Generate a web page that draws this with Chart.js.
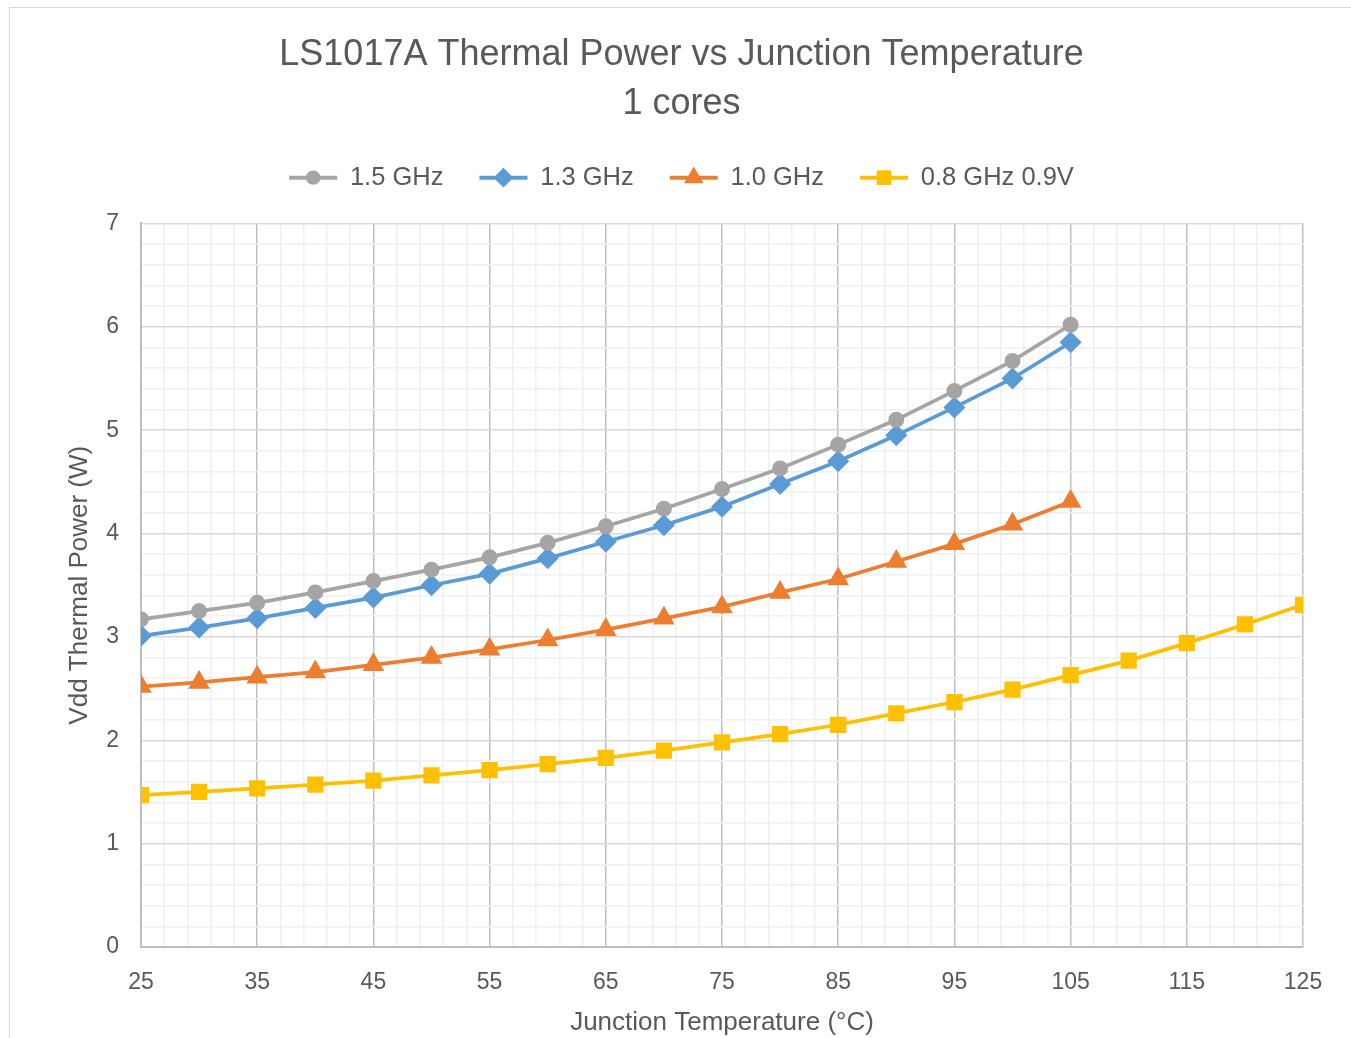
<!DOCTYPE html>
<html><head><meta charset="utf-8">
<script src="https://cdn.jsdelivr.net/npm/chart.js@4/dist/chart.umd.min.js"></script>
<style>
html,body{margin:0;padding:0;background:#fff;overflow:hidden;}
#wrap{position:relative;width:1351px;height:1038px;}
#frame{position:absolute;left:9px;top:7px;width:1400px;height:1100px;border:1px solid #D9D9D9;box-sizing:border-box;}
canvas{position:absolute;left:0;top:0;}
</style></head><body>
<div id="wrap"><div id="frame"></div><canvas id="c" width="1351" height="1038"></canvas></div>
<script>
const temps = [25,30,35,40,45,50,55,60,65,70,75,80,85,90,95,100,105,110,115,120,125];
const ghz15 = [3.17,3.25,3.33,3.43,3.54,3.65,3.77,3.91,4.07,4.24,4.43,4.63,4.86,5.10,5.38,5.67,6.02];
const ghz13 = [3.01,3.09,3.18,3.28,3.38,3.50,3.61,3.76,3.92,4.08,4.26,4.48,4.70,4.95,5.22,5.50,5.85];
const ghz10 = [2.52,2.56,2.61,2.66,2.73,2.80,2.88,2.97,3.07,3.18,3.29,3.43,3.56,3.73,3.90,4.09,4.31];
const ghz08 = [1.47,1.50,1.535,1.57,1.61,1.66,1.71,1.77,1.83,1.90,1.98,2.06,2.15,2.26,2.37,2.49,2.63,2.77,2.94,3.12,3.31];
const seriesNames = ['1.5 GHz','1.3 GHz','1.0 GHz','0.8 GHz 0.9V'];
const xTickLabels = [25,35,45,55,65,75,85,95,105,115,125];
const yTickLabels = [0,1,2,3,4,5,6,7];
const xMinorStep = 2;
const yMinorStep = 0.2;

const TEXT = '#595959';
const FONT = "'Liberation Sans', Arial, sans-serif";
const pts = (vals) => vals.map((v,i) => ({x: temps[i], y: v}));

const styles = [
  {color:'#A5A5A5', pointStyle:'circle', r:8},
  {color:'#5B9BD5', pointStyle:'rectRot', r:11},
  {color:'#ED7D31', pointStyle:'triangle', r:12.5},
  {color:'#FFC000', pointStyle:'rect', r:11.5},
];
const allVals = [ghz15, ghz13, ghz10, ghz08];
const datasets = allVals.map((vals, i) => ({
  label: seriesNames[i],
  data: pts(vals),
  borderColor: styles[i].color,
  backgroundColor: styles[i].color,
  borderWidth: 3.75,
  pointStyle: styles[i].pointStyle,
  pointRadius: styles[i].r,
  pointHoverRadius: styles[i].r,
  pointBorderWidth: 0,
  pointBackgroundColor: styles[i].color,
  tension: 0,
}));

function drawMarker(ctx, style, x, y, r, color) {
  ctx.save();
  ctx.fillStyle = color;
  ctx.beginPath();
  if (style === 'circle') {
    ctx.arc(x, y, r, 0, Math.PI*2);
  } else if (style === 'rectRot') {
    ctx.moveTo(x, y - r); ctx.lineTo(x + r, y); ctx.lineTo(x, y + r); ctx.lineTo(x - r, y); ctx.closePath();
  } else if (style === 'triangle') {
    ctx.moveTo(x, y - r); ctx.lineTo(x + r*Math.sin(Math.PI/3), y + r/2); ctx.lineTo(x - r*Math.sin(Math.PI/3), y + r/2); ctx.closePath();
  } else {
    const s = r * Math.SQRT1_2;
    ctx.rect(x - s, y - s, 2*s, 2*s);
  }
  ctx.fill();
  ctx.restore();
}

const legendMarkers = {
  id: 'legendMarkers',
  afterDraw(chart) {
    const lg = chart.legend;
    if (!lg || !lg.legendHitBoxes) return;
    const ctx = chart.ctx;
    lg.legendHitBoxes.forEach((hb, i) => {
      const bw = lg.options.labels.boxWidth;
      const cx = hb.left + bw / 2;
      const cy = hb.top + hb.height / 2;
      drawMarker(ctx, styles[i].pointStyle, cx, cy, styles[i].r * 0.9, styles[i].color);
    });
  }
};

const legendSpacing = {
  id: 'legendSpacing',
  afterInit(chart) {
    const lg = chart.legend;
    const orig = lg.fit;
    lg.fit = function() { orig.call(this); this.height += 23; };
  }
};

new Chart(document.getElementById('c'), {
  type: 'line',
  data: { datasets },
  plugins: [legendMarkers, legendSpacing],
  options: {
    responsive: false,
    animation: false,
    layout: { padding: { left: 12, right: 0, top: 0, bottom: 0 } },
    plugins: {
      tooltip: { enabled: false },
      title: {
        display: true,
        text: ['LS1017A Thermal Power vs Junction Temperature', '1 cores'],
        color: TEXT,
        font: { family: FONT, size: 36, weight: 'normal', lineHeight: 1.36 },
        padding: { top: 31, bottom: 0 },
      },
      legend: {
        display: true,
        position: 'top',
        labels: {
          color: TEXT,
          font: { family: FONT, size: 25.5 },
          boxWidth: 48,
          boxHeight: 4,
          padding: 36,
          generateLabels(chart) {
            return chart.data.datasets.map((ds, i) => ({
              text: ds.label,
              fillStyle: ds.borderColor,
              strokeStyle: ds.borderColor,
              lineWidth: 0,
              hidden: false,
              datasetIndex: i,
              fontColor: TEXT,
            }));
          }
        }
      }
    },
    scales: {
      x: {
        type: 'linear',
        min: xTickLabels[0],
        max: xTickLabels[xTickLabels.length - 1],
        afterBuildTicks(scale) {
          const t = [];
          for (let v = xTickLabels[0]; v <= xTickLabels[xTickLabels.length-1] + 1e-9; v += xMinorStep) t.push({ value: v });
          scale.ticks = t;
        },
        afterFit(scale) { scale.height = 91; },
        ticks: {
          autoSkip: false,
          maxRotation: 0,
          color: TEXT,
          font: { family: FONT, size: 23 },
          padding: 22,
          callback: (v) => xTickLabels.includes(v) ? String(v) : '',
        },
        grid: {
          drawTicks: false,
          lineWidth: 1.5,
          color: (c) => xTickLabels.includes(c.tick && c.tick.value) ? '#BFBFBF' : '#F0F0F0',
        },
        border: { display: true, color: '#BFBFBF', width: 2 },
        title: {
          display: true,
          text: 'Junction Temperature (°C)',
          color: TEXT,
          font: { family: FONT, size: 26 },
          padding: { top: 2, bottom: 0 },
        }
      },
      y: {
        type: 'linear',
        position: 'left',
        min: yTickLabels[0],
        max: yTickLabels[yTickLabels.length - 1],
        afterBuildTicks(scale) {
          const t = [];
          const n = Math.round((yTickLabels[yTickLabels.length-1] - yTickLabels[0]) / yMinorStep);
          for (let i = 0; i <= n; i++) t.push({ value: Math.round((yTickLabels[0] + i * yMinorStep) * 1000) / 1000 });
          scale.ticks = t;
        },
        afterFit(scale) { scale.width = 129; },
        ticks: {
          autoSkip: false,
          color: TEXT,
          font: { family: FONT, size: 23 },
          padding: 22,
          callback: (v) => yTickLabels.includes(v) ? String(v) : '',
        },
        grid: {
          drawTicks: false,
          lineWidth: 1.5,
          color: (c) => yTickLabels.includes(c.tick && c.tick.value) ? '#D9D9D9' : '#F0F0F0',
        },
        border: { display: true, color: '#BFBFBF', width: 2 },
        title: {
          display: true,
          text: 'Vdd Thermal Power (W)',
          color: TEXT,
          font: { family: FONT, size: 26 },
          padding: { top: 52, bottom: 0 },
        }
      },
      yRight: {
        type: 'linear',
        position: 'right',
        min: 0, max: 1,
        afterFit(scale) { scale.width = 48; },
        grid: { display: false, drawOnChartArea: false, drawTicks: false },
        ticks: { display: false },
        border: { display: false },
      }
    }
  }
});
</script>
</body></html>
